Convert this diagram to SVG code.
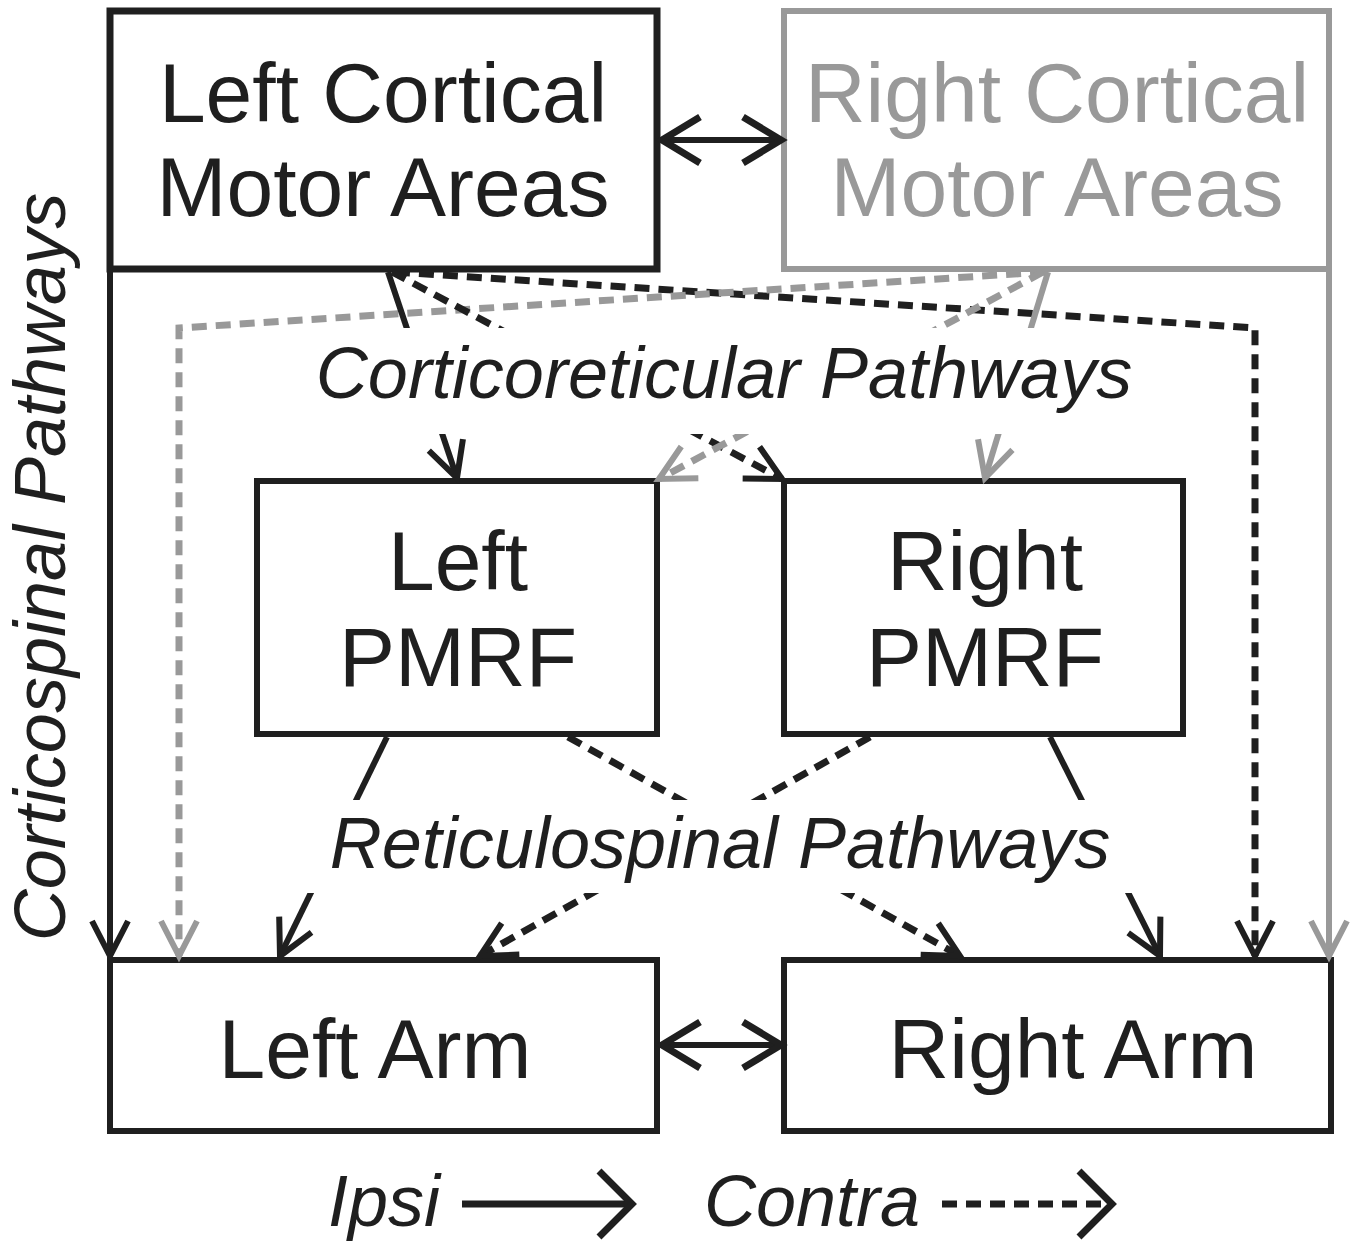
<svg xmlns="http://www.w3.org/2000/svg" width="1363" height="1247" viewBox="0 0 1363 1247">
<style>
.box{fill:#fff;stroke-width:6}
.bk{stroke:#1f1f1f}
.gr{stroke:#999}
.t{font-family:"Liberation Sans",Arial,sans-serif;font-size:84px;text-anchor:middle}
.it{font-family:"Liberation Sans",Arial,sans-serif;font-size:72px;font-style:italic;fill:#1f1f1f}
.ln{fill:none;stroke-width:6}
.ds{stroke-dasharray:15 9;stroke-width:7}
</style>
<defs>
<marker id="aB" markerUnits="userSpaceOnUse" orient="auto" refX="0" refY="0" markerWidth="100" markerHeight="100" viewBox="-50 -50 100 100" overflow="visible"><path d="M-35,-18 L0,0 L-35,18" fill="none" stroke="#1f1f1f" stroke-width="6"/></marker>
<marker id="aG" markerUnits="userSpaceOnUse" orient="auto" refX="0" refY="0" markerWidth="100" markerHeight="100" viewBox="-50 -50 100 100" overflow="visible"><path d="M-35,-18 L0,0 L-35,18" fill="none" stroke="#999" stroke-width="6"/></marker>
<marker id="aD" markerUnits="userSpaceOnUse" orient="auto-start-reverse" refX="0" refY="0" markerWidth="100" markerHeight="100" viewBox="-50 -50 100 100" overflow="visible"><path d="M-38,-23 L0,0 L-38,23" fill="none" stroke="#1f1f1f" stroke-width="7"/></marker>
<marker id="aL" markerUnits="userSpaceOnUse" orient="auto" refX="0" refY="0" markerWidth="100" markerHeight="100" viewBox="-50 -50 100 100" overflow="visible"><path d="M-33,-33 L0,0 L-33,33" fill="none" stroke="#1f1f1f" stroke-width="7"/></marker>
<mask id="gap" maskUnits="userSpaceOnUse" x="0" y="0" width="1363" height="1247">
<rect x="0" y="0" width="1363" height="1247" fill="#fff"/>
<rect x="200" y="328" width="1000" height="106" fill="#000"/>
<rect x="200" y="800" width="1000" height="93" fill="#000"/>
</mask>
</defs>

<g id="left-cortical">
<rect class="box bk" x="110" y="11" width="547" height="258" style="stroke-width:7"/>
<text class="t" x="383" y="122" fill="#1f1f1f">Left Cortical</text>
<text class="t" x="383" y="216" fill="#1f1f1f">Motor Areas</text>
</g>
<g id="right-cortical">
<rect class="box gr" x="784" y="11" width="545" height="258"/>
<text class="t" x="1057" y="122" fill="#999">Right Cortical</text>
<text class="t" x="1057" y="216" fill="#999">Motor Areas</text>
</g>
<g id="left-pmrf">
<rect class="box bk" x="257" y="481" width="400" height="253"/>
<text class="t" x="458" y="590" fill="#1f1f1f">Left</text>
<text class="t" x="458" y="686" fill="#1f1f1f">PMRF</text>
</g>
<g id="right-pmrf">
<rect class="box bk" x="784" y="481" width="399" height="253"/>
<text class="t" x="985" y="590" fill="#1f1f1f">Right</text>
<text class="t" x="985" y="686" fill="#1f1f1f">PMRF</text>
</g>
<g id="left-arm">
<rect class="box bk" x="110" y="960" width="547" height="171"/>
<text class="t" x="375" y="1078" fill="#1f1f1f">Left Arm</text>
</g>
<g id="right-arm">
<rect class="box bk" x="784" y="960" width="547" height="171"/>
<text class="t" x="1073" y="1078" fill="#1f1f1f">Right Arm</text>
</g>

<g id="labels">
<text class="it" x="724" y="398" text-anchor="middle">Corticoreticular Pathways</text>
<text class="it" x="720" y="868" text-anchor="middle">Reticulospinal Pathways</text>
<text class="it" transform="translate(65,567) rotate(-90)" text-anchor="middle">Corticospinal Pathways</text>
<text class="it" x="328" y="1226">Ipsi</text>
<text class="it" x="704" y="1226">Contra</text>
</g>

<g id="connectors">
<path class="ln bk" d="M662,140 L781,140" marker-start="url(#aD)" marker-end="url(#aD)"/>
<path class="ln bk" d="M662,1045 L781,1045" marker-start="url(#aD)" marker-end="url(#aD)"/>
<path class="ln bk" d="M110,269 L110,956" marker-end="url(#aB)"/>
<path class="ln gr" d="M1329,269 L1329,956" marker-end="url(#aG)"/>
<path class="ln bk ds" d="M395,272 L1255,328 L1255,956" marker-end="url(#aB)"/>
<path class="ln gr ds" d="M1045,272 L179,328 L179,956" marker-end="url(#aG)"/>
<g mask="url(#gap)">
<path class="ln bk" d="M388,272 L457,478" marker-end="url(#aB)"/>
<path class="ln bk ds" d="M392,272 L782,479" marker-end="url(#aB)"/>
<path class="ln gr" d="M1048,272 L985,478" marker-end="url(#aG)"/>
<path class="ln gr ds" d="M1043,272 L659,479" marker-end="url(#aG)"/>
<path class="ln bk" d="M387,737 L280,956" marker-end="url(#aB)"/>
<path class="ln bk ds" d="M568,737 L960,956" marker-end="url(#aB)"/>
<path class="ln bk ds" d="M870,737 L480,956" marker-end="url(#aB)"/>
<path class="ln bk" d="M1050,737 L1160,956" marker-end="url(#aB)"/>
</g>
<path class="ln bk" d="M462,1204 L632,1204" style="stroke-width:7" marker-end="url(#aL)"/>
<path class="ln bk ds" d="M942,1204 L1112,1204" marker-end="url(#aL)"/>
</g>
</svg>
